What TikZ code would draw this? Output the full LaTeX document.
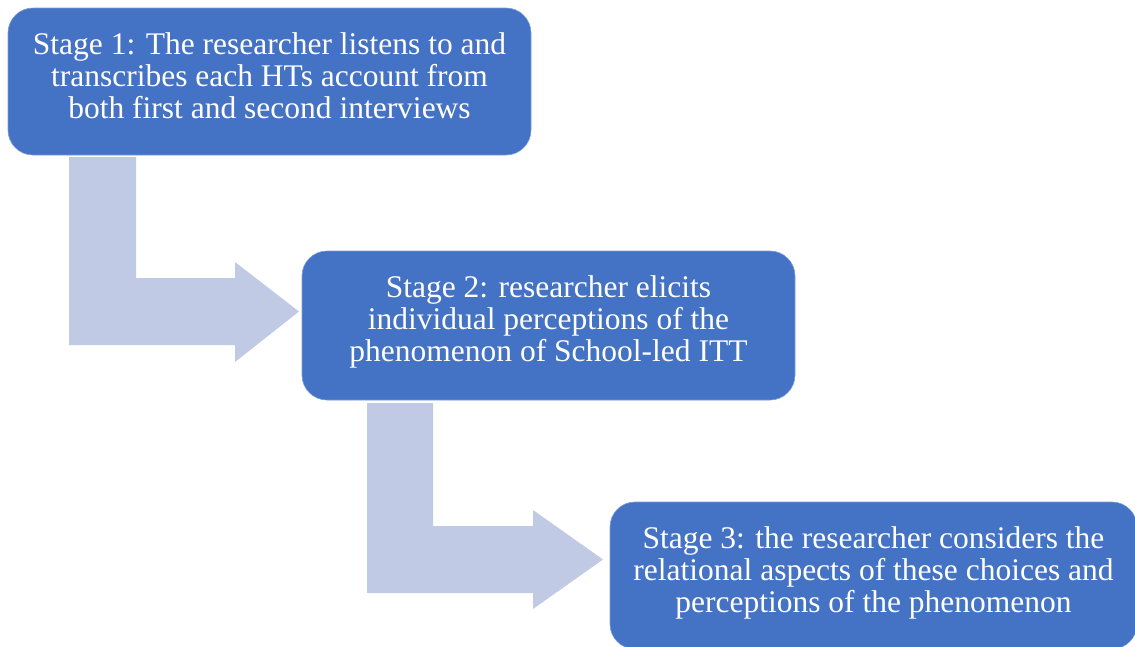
\documentclass[tikz,border=0pt]{standalone}
\usepackage{fontspec}
\setmainfont{Liberation Serif}
\definecolor{boxblue}{HTML}{4472C4}
\definecolor{arrowblue}{HTML}{C0CAE4}
\begin{document}
\begin{tikzpicture}[x=1pt,y=-1pt,
  stagebox/.style={rounded corners=25pt, fill=boxblue, draw=boxblue!70!white, line width=0.6pt},
  stagetext/.style={text=white, align=center, font=\fontsize{31.5}{32.4}\selectfont, inner sep=0pt},
  bentarrow/.style={fill=arrowblue, draw=none}]
\useasboundingbox (0,0) rectangle (1135,646);
% bent arrows
\fill[bentarrow] (69,157) -- (136,157) -- (136,278) -- (235,278) -- (235,262) -- (299,311.5) -- (235,362) -- (235,345) -- (69,345) -- cycle;
\fill[bentarrow] (367,403) -- (433,403) -- (433,526) -- (533,526) -- (533,510) -- (603,559.5) -- (533,609) -- (533,593) -- (367,593) -- cycle;
% boxes
\path[stagebox] (8,8) rectangle (531,155);
\path[stagebox] (302,251) rectangle (795,400);
\path[stagebox] (610,502) rectangle (1137,649);
% texts
\node[stagetext] (s1) at (269.5,79) {Stage 1: The researcher listens to and\\transcribes each HTs account from\\both first and second interviews\vphantom{p}};
\node[stagetext] (s2) at (548.5,322) {Stage 2: researcher elicits\\individual perceptions of the\\phenomenon of School-led ITT\vphantom{p}};
\node[stagetext] (s3) at (873.5,573) {Stage 3: the researcher considers the\\relational aspects of these choices and\\perceptions of the phenomenon\vphantom{p}};
\end{tikzpicture}
\end{document}
